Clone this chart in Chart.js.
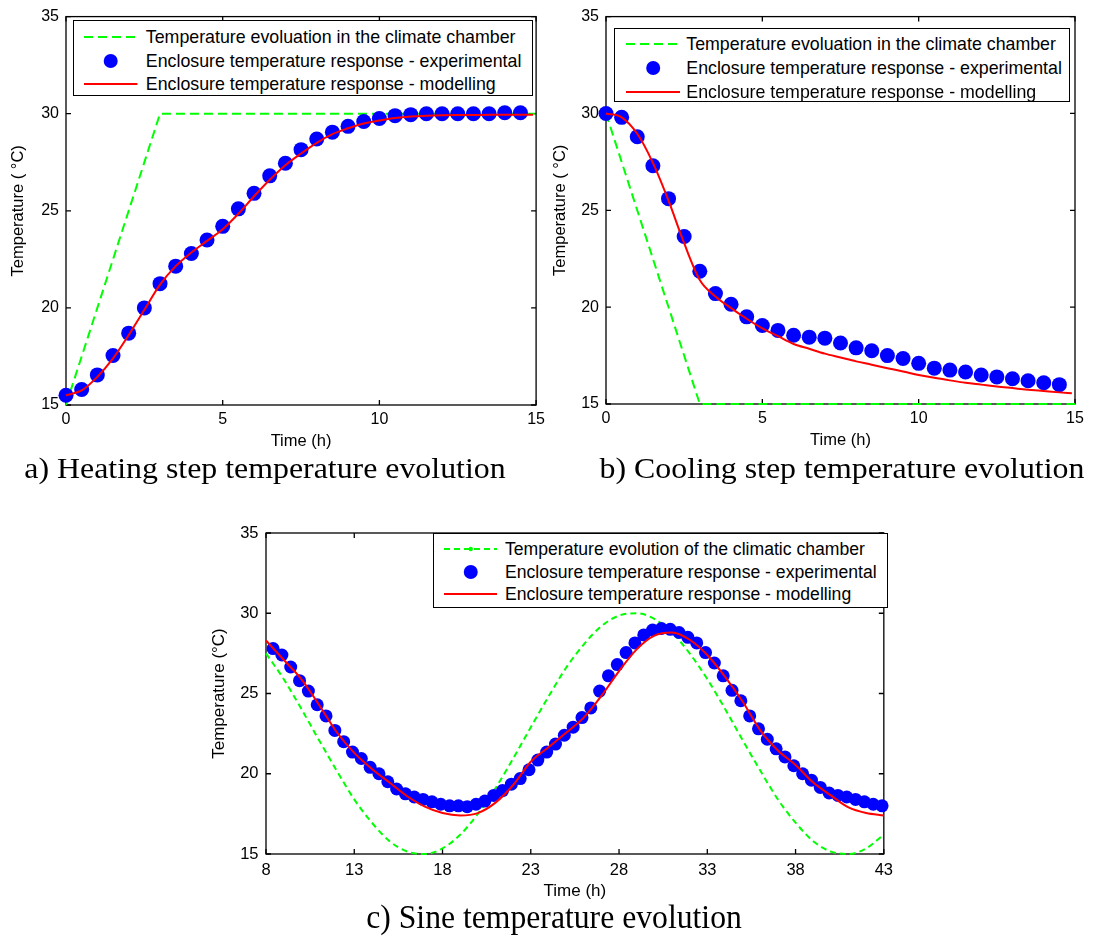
<!DOCTYPE html>
<html>
<head>
<meta charset="utf-8">
<script src="https://cdn.jsdelivr.net/npm/chart.js@4.4.1/dist/chart.umd.min.js"></script>
<style>
  body { margin: 0; background: #fff; }
  #fig { position: relative; width: 1095px; height: 938px; overflow: hidden; background: #fff;
         font-family: "Liberation Sans", Arial, Helvetica, sans-serif; }
  canvas { position: absolute; }
  .legend { position: absolute; border: 1.5px solid #000; background: #fff; box-sizing: border-box; }
  .row { position: absolute; left: 0; right: 0; height: 22px; }
  .row svg { position: absolute; top: 0; }
  .row span { position: absolute; top: 0; line-height: 22px; white-space: nowrap; color: #000; }
  .cap { position: absolute; font-family: "Liberation Serif", "Times New Roman", serif; color: #000;
         white-space: nowrap; line-height: 1; }
</style>
</head>
<body>
<div id="fig">
  <canvas id="cA"></canvas>
  <canvas id="cB"></canvas>
  <canvas id="cC"></canvas>
  <div class="cap" style="left:264.5px;top:454px;font-size:29.5px;transform:translateX(-50%) scaleX(1.08);">a) Heating step temperature evolution</div>
  <div class="cap" style="left:841.5px;top:454px;font-size:29.5px;transform:translateX(-50%) scaleX(1.08);">b) Cooling step temperature evolution</div>
  <div class="cap" style="left:553.8px;top:901px;font-size:33px;transform:translateX(-50%) scaleX(0.96);">c) Sine temperature evolution</div>
</div>
<script>
// ---------------- data ----------------
const labelsAB = ['Temperature evoluation in the climate chamber',
                  'Enclosure temperature response - experimental',
                  'Enclosure temperature response - modelling'];
const labelsC  = ['Temperature evolution of the climatic chamber',
                  'Enclosure temperature response - experimental',
                  'Enclosure temperature response - modelling'];

const xTicksAB = [0, 5, 10, 15];
const xTicksC  = [8, 13, 18, 23, 28, 33, 38, 43];
const yTicks   = [15, 20, 25, 30, 35];

// (a) heating step
const timeExpA = [0,0.5,1,1.5,2,2.5,3,3.5,4,4.5,5,5.5,6,6.5,7,7.5,8,8.5,9,9.5,10,10.5,11,11.5,12,12.5,13,13.5,14,14.5];
const expA     = [15.5,15.8,16.55,17.55,18.7,20.0,21.25,22.15,22.8,23.5,24.2,25.1,25.9,26.8,27.45,28.15,28.7,29.05,29.35,29.6,29.75,29.9,29.95,30.0,30.0,30.0,30.0,30.0,30.05,30.05];
const timeModelA = [0,0.5,1,1.5,2,2.5,3,3.5,4,4.5,5,5.5,6,6.5,7,7.5,8,8.5,9,9.5,10,10.5,11,11.5,12,12.5,13,13.5,14,14.5,14.9];
const modelA   = [15.5,15.75,16.45,17.4,18.6,19.9,21.2,22.15,22.85,23.45,24.05,24.85,25.75,26.6,27.35,27.95,28.5,28.95,29.25,29.5,29.65,29.78,29.86,29.9,29.92,29.93,29.93,29.94,29.94,29.95,29.95];
const timeChamberA = [0, 3, 15];
const chamberA = [15, 30, 30];

// (b) cooling step
const timeExpB = [0,0.5,1,1.5,2,2.5,3,3.5,4,4.5,5,5.5,6,6.5,7,7.5,8,8.5,9,9.5,10,10.5,11,11.5,12,12.5,13,13.5,14,14.5];
const expB     = [30.0,29.8,28.8,27.3,25.6,23.65,21.85,20.7,20.15,19.5,19.05,18.8,18.55,18.45,18.4,18.15,17.9,17.75,17.5,17.35,17.1,16.85,16.75,16.65,16.5,16.4,16.3,16.2,16.1,16.0];
const timeModelB = [0,0.5,1,1.5,2,2.5,3,3.5,4,4.5,5,5.5,6,6.5,7,7.5,8,8.5,9,9.5,10,10.5,11,11.5,12,12.5,13,13.5,14,14.5,14.9];
const modelB   = [30.0,29.8,28.95,27.45,25.5,23.3,21.4,20.55,19.95,19.4,18.9,18.5,18.1,17.85,17.6,17.4,17.2,17.03,16.85,16.68,16.5,16.35,16.22,16.1,16.0,15.9,15.82,15.74,15.67,15.6,15.55];
const timeChamberB = [0, 3, 15];
const chamberB = [30, 15, 15];

// (c) sine
const timeExpC = [8.4,8.9,9.4,9.9,10.4,10.9,11.4,11.9,12.4,12.9,13.4,13.9,14.4,14.9,15.4,15.9,16.4,16.9,17.4,17.9,
                  18.4,18.9,19.4,19.9,20.4,20.9,21.4,21.9,22.4,22.9,23.4,23.9,24.4,24.9,25.4,25.9,26.4,26.9,27.4,27.9,
                  28.4,28.9,29.4,29.9,30.4,30.9,31.4,31.9,32.4,32.9,33.4,33.9,34.4,34.9,35.4,35.9,36.4,36.9,37.4,37.9,
                  38.4,38.9,39.4,39.9,40.4,40.9,41.4,41.9,42.4,42.9];
const expC     = [27.8,27.4,26.65,25.8,25.15,24.3,23.6,22.7,22.0,21.35,
                  20.95,20.4,20.0,19.5,19.05,18.75,18.55,18.4,18.25,18.1,
                  18.0,18.0,17.95,18.1,18.3,18.65,18.95,19.35,19.7,20.25,
                  20.85,21.35,21.85,22.4,22.9,23.5,24.1,25.15,26.1,26.8,
                  27.55,28.15,28.65,28.95,29.05,29.0,28.8,28.5,28.15,27.55,
                  26.9,26.1,25.2,24.55,23.6,22.8,22.15,21.55,21.05,20.5,
                  20.0,19.6,19.15,18.8,18.65,18.55,18.4,18.25,18.1,18.0];
const timeModelC = [8,9,10,11,12,13,14,15,16,17,18,19,20,21,22,23,24,25,26,27,28,29,30,31,32,33,34,35,36,37,38,39,40,41,42,43];
const modelC   = [28.3,27.1,25.9,24.3,22.6,21.3,20.3,19.45,18.6,17.95,17.55,17.4,17.55,18.2,19.3,20.75,21.65,22.55,
                  23.5,24.85,26.4,27.75,28.6,28.8,28.35,27.4,26.05,24.5,22.7,21.45,20.55,19.45,18.65,17.9,17.55,17.4];
const timeChamberC = [8,9,10,11,12,13,14,15,16,17,18,19,20,21,22,23,24,25,26,27,28,29,30,31,32,33,34,35,36,37,38,39,40,41,42,43];
const chamberC = [27.5,25.9,24.05,22.1,20.2,18.4,16.95,15.8,15.15,15.0,15.35,16.2,17.5,19.1,20.95,22.9,24.8,26.6,
                  28.05,29.2,29.85,30.0,29.65,28.8,27.5,25.9,24.05,22.1,20.2,18.4,16.95,15.8,15.15,15.0,15.35,16.2];

// ---------------- styling ----------------
const GREEN = '#00ff00', BLUE = '#0000ff', RED = '#ff0000';
Chart.defaults.font.family = '"Liberation Sans", Arial, Helvetica, sans-serif';
Chart.defaults.color = '#000';

const framePlugin = {
  id: 'matlabFrame',
  beforeDatasetsDraw(chart) {
    const {ctx, chartArea: a, scales: {x, y}} = chart;
    const L = 5;
    ctx.save();
    ctx.strokeStyle = '#000';
    ctx.lineWidth = 1.3;
    ctx.strokeRect(a.left, a.top, a.right - a.left, a.bottom - a.top);
    ctx.beginPath();
    x.ticks.forEach(t => {
      const p = x.getPixelForValue(t.value);
      ctx.moveTo(p, a.bottom); ctx.lineTo(p, a.bottom - L);
      ctx.moveTo(p, a.top); ctx.lineTo(p, a.top + L);
    });
    y.ticks.forEach(t => {
      const p = y.getPixelForValue(t.value);
      ctx.moveTo(a.left, p); ctx.lineTo(a.left + L, p);
      ctx.moveTo(a.right, p); ctx.lineTo(a.right - L, p);
    });
    ctx.stroke();
    ctx.restore();
  }
};

function pts(xs, ys) { return xs.map((x, i) => ({x: x, y: ys[i]})); }

function makeChart(id, o) {
  const cv = document.getElementById(id);
  cv.width = o.w; cv.height = o.h;
  cv.style.left = o.left + 'px'; cv.style.top = o.top + 'px';
  cv.style.width = o.w + 'px'; cv.style.height = o.h + 'px';
  return new Chart(cv, {
    type: 'line',
    data: {
      datasets: [
        {label: o.labels[2], data: pts(o.tm, o.model), borderColor: RED, backgroundColor: RED,
         borderWidth: 2, pointRadius: 0, cubicInterpolationMode: 'monotone', order: 1, clip: false},
        {label: o.labels[1], data: pts(o.te, o.exp), showLine: false, pointRadius: o.r, pointHoverRadius: o.r,
         pointBackgroundColor: BLUE, pointBorderColor: BLUE, pointBorderWidth: 0, borderColor: BLUE,
         backgroundColor: BLUE, order: 2, clip: false},
        {label: o.labels[0], data: pts(o.tc, o.chamber), borderColor: GREEN, backgroundColor: GREEN,
         borderWidth: 2, borderDash: o.dash, pointRadius: 0,
         cubicInterpolationMode: o.smooth ? 'monotone' : 'default', tension: 0, order: 3, clip: false}
      ]
    },
    options: {
      responsive: false, animation: false, events: [], devicePixelRatio: 1,
      layout: {padding: {top: o.padTop, right: o.padRight, left: 0, bottom: 0}},
      plugins: {legend: {display: false}, tooltip: {enabled: false}},
      scales: {
        x: {
          type: 'linear', min: o.xTicks[0], max: o.xTicks[o.xTicks.length - 1],
          afterBuildTicks: s => { s.ticks = o.xTicks.map(v => ({value: v})); },
          afterFit: s => { s.height = o.xAxisH; },
          grid: {display: false, drawTicks: false}, border: {display: false},
          ticks: {padding: o.xTickPad, font: {size: o.tickSize}, color: '#000', maxRotation: 0, autoSkip: false},
          title: {display: true, text: 'Time (h)', font: {size: o.titleSize}, color: '#000',
                  padding: {top: 0, bottom: o.xTitlePad}}
        },
        y: {
          type: 'linear', min: 15, max: 35,
          afterBuildTicks: s => { s.ticks = yTicks.map(v => ({value: v})); },
          afterFit: s => { s.width = o.yAxisW; },
          grid: {display: false, drawTicks: false}, border: {display: false},
          ticks: {padding: o.yTickPad, font: {size: o.tickSize}, color: '#000', autoSkip: false},
          title: {display: true, text: o.yTitle, font: {size: o.titleSize}, color: '#000',
                  padding: {top: o.yTitlePad, bottom: 0}}
        }
      }
    },
    plugins: [framePlugin]
  });
}

function makeLegend(chart, L) {
  const fig = document.getElementById('fig');
  const box = document.createElement('div');
  box.className = 'legend';
  Object.assign(box.style, {left: L.left + 'px', top: L.top + 'px', width: L.width + 'px', height: L.height + 'px'});
  const ds = chart.data.datasets;
  const order = [2, 1, 0]; // chamber, experimental, modelling
  order.forEach((di, k) => {
    const d = ds[di];
    const row = document.createElement('div');
    row.className = 'row';
    row.style.top = (L.rows[k] - 11) + 'px';
    const w = L.sampleW;
    let svg;
    if (d.showLine === false) {
      svg = `<svg width="${w}" height="22"><circle cx="${w / 2}" cy="11" r="${L.dotR}" fill="${d.pointBackgroundColor}"/></svg>`;
    } else {
      const dash = d.borderDash ? `stroke-dasharray="${d.borderDash.join(' ')}"` : '';
      const mid = (d.borderDash && L.midDot) ? `<circle cx="${w / 2}" cy="11" r="2.2" fill="${d.borderColor}"/>` : '';
      svg = `<svg width="${w}" height="22"><line x1="0" y1="11" x2="${w}" y2="11" stroke="${d.borderColor}" stroke-width="2" ${dash}/>${mid}</svg>`;
    }
    row.innerHTML = svg + `<span style="left:${L.textX}px;font-size:${L.font}px;">${d.label}</span>`;
    row.querySelector('svg').style.left = L.sampleX + 'px';
    box.appendChild(row);
  });
  fig.appendChild(box);
}

const chartA = makeChart('cA', {
  left: 0, top: 0, w: 550, h: 455, padTop: 15, padRight: 11, yAxisW: 66, xAxisH: 50,
  xTicks: xTicksAB, tickSize: 16, titleSize: 16.5, xTickPad: 5, yTickPad: 7, xTitlePad: 4, yTitlePad: 9,
  yTitle: 'Temperature ( \u00B0C)', labels: labelsAB, r: 7.5, dash: [9, 5], smooth: false,
  te: timeExpA, exp: expA, tm: timeModelA, model: modelA, tc: timeChamberA, chamber: chamberA
});
const chartB = makeChart('cB', {
  left: 550, top: 0, w: 545, h: 455, padTop: 16, padRight: 20, yAxisW: 56, xAxisH: 51,
  xTicks: xTicksAB, tickSize: 16, titleSize: 16.5, xTickPad: 5, yTickPad: 7, xTitlePad: 5, yTitlePad: 1,
  yTitle: 'Temperature ( \u00B0C)', labels: labelsAB, r: 7.5, dash: [9, 5], smooth: false,
  te: timeExpB, exp: expB, tm: timeModelB, model: modelB, tc: timeChamberB, chamber: chamberB
});
const chartC = makeChart('cC', {
  left: 200, top: 500, w: 700, h: 410, padTop: 33, padRight: 13, yAxisW: 66, xAxisH: 56,
  xTicks: xTicksC, tickSize: 16.5, titleSize: 17, xTickPad: 7, yTickPad: 7.5, xTitlePad: 8, yTitlePad: 9.5,
  yTitle: 'Temperature (\u00B0C)', labels: labelsC, r: 6.5, dash: [6, 4], smooth: true,
  te: timeExpC, exp: expC, tm: timeModelC, model: modelC, tc: timeChamberC, chamber: chamberC
});

makeLegend(chartA, {left: 72.5, top: 20, width: 460, height: 76, rows: [15.7, 40, 62.7],
                    sampleX: 10.8, sampleW: 53.4, textX: 72.3, font: 17.8, dotR: 7});
makeLegend(chartB, {left: 613.7, top: 28.3, width: 456, height: 73.4, rows: [15, 38.4, 62.4],
                    sampleX: 11.3, sampleW: 54.4, textX: 71.6, font: 17.8, dotR: 7});
makeLegend(chartC, {left: 432.6, top: 532.5, width: 455, height: 75, rows: [15.8, 38.2, 60.8],
                    sampleX: 10.3, sampleW: 53.5, textX: 71.4, font: 17.6, dotR: 7, midDot: true});
</script>
</body>
</html>
